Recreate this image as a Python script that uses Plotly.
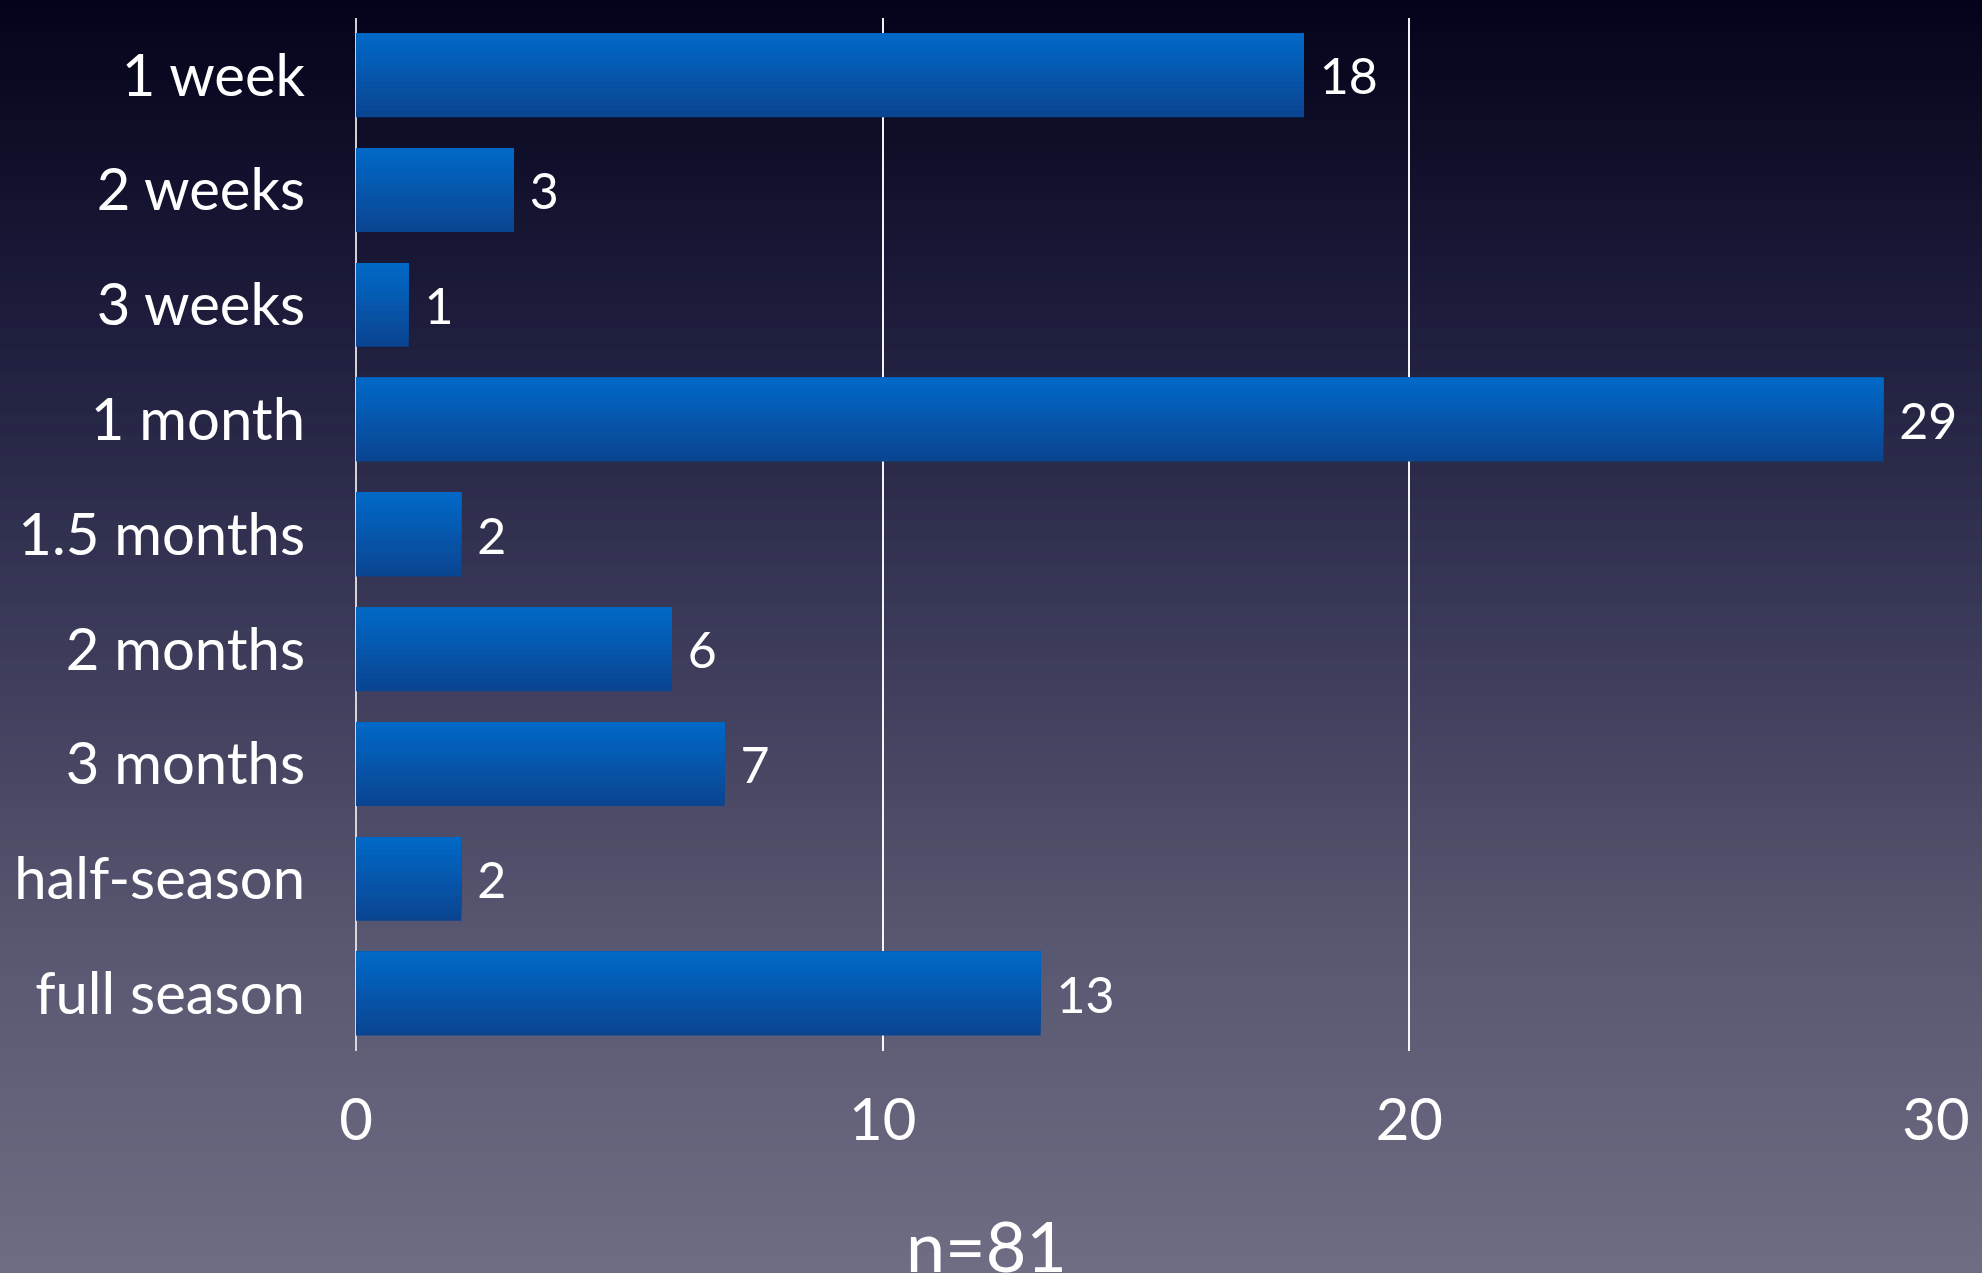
import plotly.graph_objects as go

categories = ["1 week", "2 weeks", "3 weeks", "1 month", "1.5 months",
              "2 months", "3 months", "half-season", "full season"]
counts = [18, 3, 1, 29, 2, 6, 7, 2, 13]
x_ticks = [0, 10, 20, 30]
note = "n=81"

W, H = 1982, 1273
FONT = "Lato"

def lerp(c1, c2, t):
    return tuple(round(a + (b - a) * t) for a, b in zip(c1, c2))

def hexrgb(h):
    h = h.lstrip("#")
    return tuple(int(h[i:i + 2], 16) for i in (0, 2, 4))

fig = go.Figure()

# bar with vertical gradient: stacked overlay layers
bar_w = 0.73
bottom_c = hexrgb("#0a4592")
top_c = hexrgb("#0168c6")
N = 14
for k in range(N):
    t = k / (N - 1)
    c = lerp(bottom_c, top_c, t)
    fig.add_trace(go.Bar(
        y=categories, x=counts, orientation="h",
        width=bar_w * (N - k) / N, offset=-bar_w / 2,
        marker=dict(color="rgb(%d,%d,%d)" % c, line=dict(width=0)),
        hoverinfo="skip" if k else None, showlegend=False,
    ))
# value labels
fig.add_trace(go.Bar(
    y=categories, x=counts, orientation="h",
    width=bar_w, offset=-bar_w / 2,
    marker=dict(color="rgba(0,0,0,0)", line=dict(width=0)),
    text=[" %d" % v for v in counts], textposition="outside",
    textfont=dict(color="white", size=50, family=FONT),
    cliponaxis=False, showlegend=False, hoverinfo="skip",
))

# background gradient strips
stops = [(0.0, hexrgb("#03031a")), (0.25, hexrgb("#1d1c3c")),
         (0.5, hexrgb("#3b3a59")), (0.75, hexrgb("#595872")),
         (1.0, hexrgb("#6f6d83"))]
def grad(t):
    for (t0, c0), (t1, c1) in zip(stops[:-1], stops[1:]):
        if t <= t1:
            return lerp(c0, c1, (t - t0) / (t1 - t0))
    return stops[-1][1]

mt, mb, ml, mr = 18, 222, 356, 44
ph = H - mt - mb

shapes = []
S = 120
for i in range(S):
    t = (i + 0.5) / S
    c = grad(t)
    p0 = i / S * H
    p1 = (i + 1) / S * H + 1
    shapes.append(dict(type="rect", xref="paper", yref="paper", layer="below",
                       x0=-1, x1=2,
                       y0=(H - mb - p0) / ph, y1=(H - mb - p1) / ph,
                       fillcolor="rgb(%d,%d,%d)" % c, line=dict(width=0)))

fig.update_layout(
    width=W, height=H,
    margin=dict(l=ml, r=mr, t=mt, b=mb),
    paper_bgcolor="#3b3a59",
    plot_bgcolor="rgba(0,0,0,0)",
    barmode="overlay",
    shapes=shapes,
    font=dict(family=FONT, color="white"),
    xaxis=dict(range=[0, 30], tickvals=x_ticks, showgrid=True,
               gridcolor="rgba(255,255,255,0.95)", gridwidth=2,
               zeroline=True, zerolinecolor="rgba(230,230,230,0.9)", zerolinewidth=2,
               tickfont=dict(size=58, color="white", family=FONT),
               ticks="", ticklabelstandoff=30, fixedrange=True),
    yaxis=dict(autorange="reversed", showgrid=False, ticks="",
               tickfont=dict(size=58, color="white", family=FONT),
               ticklabelstandoff=50, fixedrange=True),
    annotations=[dict(text=note, xref="paper", yref="paper",
                      x=(987 - ml) / (W - ml - mr), y=-0.188,
                      xanchor="center", yanchor="middle", showarrow=False,
                      font=dict(size=70, color="white", family=FONT))],
)

fig.write_html("out.html")
